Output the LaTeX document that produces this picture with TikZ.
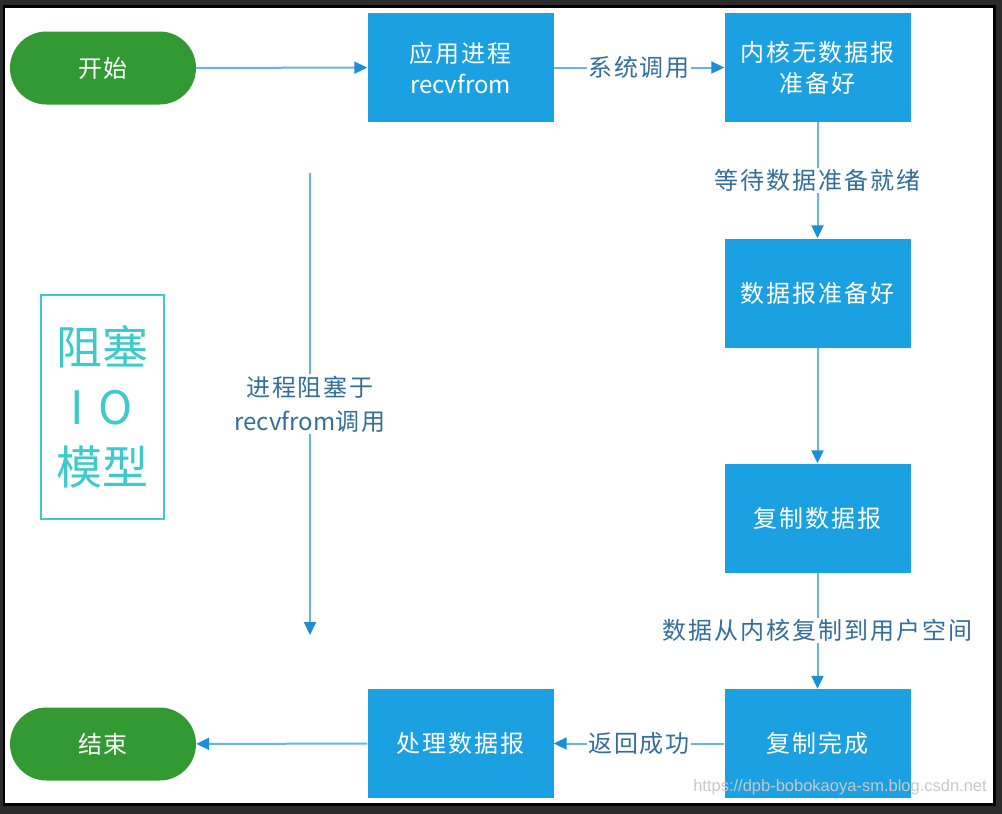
\documentclass[tikz,border=0pt]{standalone}
\usepackage{fontspec}
\setmainfont{Noto Sans CJK SC}
\newfontfamily\cjkls[LetterSpace=8]{Noto Sans CJK SC}
\newfontfamily\plain{Noto Sans CJK SC}
\newfontfamily\wmfont{Liberation Sans}
\usetikzlibrary{arrows.meta,shapes.misc}
\definecolor{outerbg}{HTML}{2B2B2B}
\definecolor{boxblue}{HTML}{1BA1E2}
\definecolor{termgreen}{HTML}{339933}
\definecolor{lineblue}{HTML}{62B6E8}
\definecolor{tipblue}{HTML}{1B8FD6}
\definecolor{lblcol}{HTML}{336E9C}
\definecolor{titlecyan}{HTML}{3CCACA}
\definecolor{wmgray}{HTML}{C8C8C8}
\begin{document}
\begin{tikzpicture}[x=1pt,y=-1pt,
  box/.style={fill=boxblue, minimum width=186pt, minimum height=109pt, inner sep=0pt,
    text=white, align=center, font=\cjkls\fontsize{24}{31}\selectfont},
  term/.style={rounded rectangle, fill=termgreen, minimum width=186pt, minimum height=73pt,
    inner sep=0pt, text=white, font=\cjkls\fontsize{24}{31}\selectfont},
  conn/.style={draw=lineblue, line width=2pt, -{Triangle[length=13pt,width=12pt,color=tipblue]}},
  lbl/.style={fill=white, text=lblcol, inner sep=1.5pt, align=center,
    font=\cjkls\fontsize{24}{34}\selectfont}]
  % frame
  \fill[outerbg] (0,0) rectangle (1002,814);
  \fill[black] (3,5) rectangle (996,806);
  \fill[white] (5,8) rectangle (993,803);
  \useasboundingbox (0,0) rectangle (1002,814);
  % nodes
  \node[term] (start) at (103,68) {开始};
  \node[box] (app) at (460.5,67.5) {应用进程\\{\plain recvfrom}};
  \node[box] (nodata) at (817.5,67.5) {内核无数据报\\准备好};
  \node[box] (ready) at (817.5,293) {数据报准备好};
  \node[box] (copy) at (817.5,518) {复制数据报};
  \node[box] (done) at (817.5,743.5) {复制完成};
  \node[box] (proc) at (460.5,743.5) {处理数据报};
  \node[term] (stop) at (103,744) {结束};
  \node[draw=titlecyan, line width=2pt, minimum width=123pt, minimum height=224pt,
    text=titlecyan, align=center, font=\fontsize{46}{60}\selectfont, inner sep=0pt]
    (title) at (102.5,407) {阻塞\\\hspace*{-12pt}\makebox[39pt]{I}\makebox[39pt]{O}\\模型};
  \coordinate (bt) at (310,173);
  \coordinate (bb) at (310,635);
  % connectors
  \draw[conn] (start) -- (app);
  \draw[conn] (app) -- node[lbl] {系统调用} (nodata);
  \draw[conn] (nodata) -- node[lbl] {等待数据准备就绪} (ready);
  \draw[conn] (ready) -- (copy);
  \draw[conn] (copy) -- node[lbl] {数据从内核复制到用户空间} (done);
  \draw[conn] (done) -- node[lbl] {返回成功} (proc);
  \draw[conn] (proc) -- (stop);
  \draw[conn] (bt) -- node[lbl] {进程阻塞于\\{\plain recvfrom}调用} (bb);
  % watermark
  \node[text=wmgray, font=\wmfont\fontsize{16.5}{20}\selectfont, inner sep=0pt] (wm) at (840,787)
    {https://dpb-bobokaoya-sm.blog.csdn.net};
\end{tikzpicture}
\end{document}
